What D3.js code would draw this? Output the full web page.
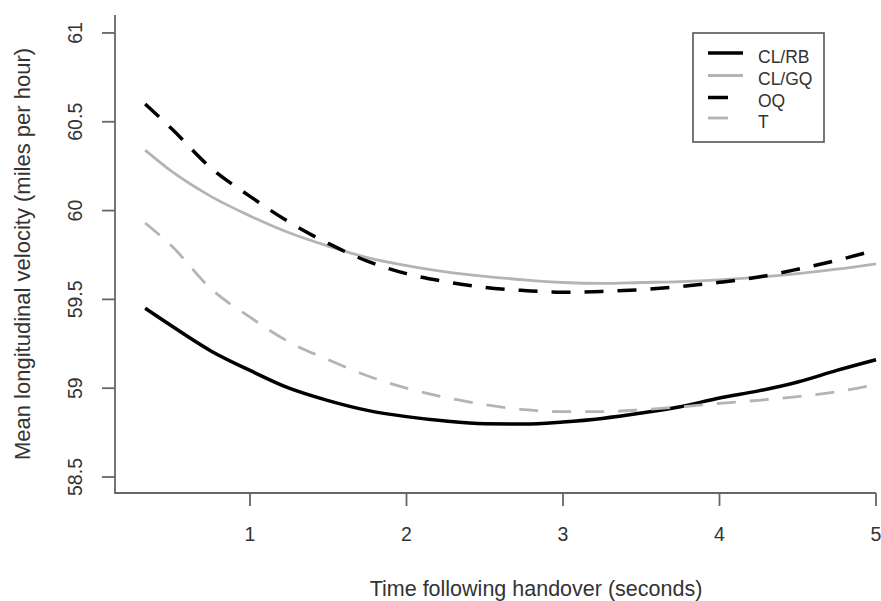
<!DOCTYPE html>
<html>
<head>
<meta charset="utf-8">
<script src="https://cdn.jsdelivr.net/npm/d3@7/dist/d3.min.js"></script>
<style>
  html, body { margin: 0; padding: 0; background: #fff; }
  text { font-family: "Liberation Sans", Arial, sans-serif; fill: #333; }
</style>
</head>
<body>
<svg id="chart" width="881" height="601"></svg>
<script>
// ---- data ----
const times = [0.33, 0.5, 0.75, 1.0, 1.25, 1.5, 1.75, 2.0, 2.25, 2.5, 2.75, 3.0, 3.25, 3.5, 3.75, 4.0, 4.25, 4.5, 4.75, 5.0];
const clrb = [59.45, 59.35, 59.21, 59.10, 59.00, 58.93, 58.875, 58.84, 58.815, 58.80, 58.798, 58.81, 58.83, 58.86, 58.896, 58.945, 58.985, 59.035, 59.10, 59.16];
const clgq = [60.34, 60.22, 60.08, 59.97, 59.875, 59.80, 59.735, 59.69, 59.655, 59.63, 59.61, 59.595, 59.59, 59.595, 59.60, 59.61, 59.625, 59.645, 59.67, 59.70];
const oq   = [60.60, 60.46, 60.24, 60.08, 59.935, 59.815, 59.715, 59.645, 59.60, 59.567, 59.55, 59.54, 59.545, 59.555, 59.572, 59.596, 59.626, 59.67, 59.72, 59.778];
const tq   = [59.93, 59.80, 59.56, 59.40, 59.26, 59.16, 59.07, 59.00, 58.948, 58.908, 58.879, 58.868, 58.868, 58.878, 58.895, 58.915, 58.932, 58.953, 58.98, 59.02];
const seriesNames = ["CL/RB", "CL/GQ", "OQ", "T"];
const xTicks = [1, 2, 3, 4, 5];
const yTicks = [58.5, 59, 59.5, 60, 60.5, 61];
const xTitle = "Time following handover (seconds)";
const yTitle = "Mean longitudinal velocity (miles per hour)";

// ---- styles ----
const styles = {
  "CL/RB": { color: "#000000", width: 3.5, dash: null, legLen: 35 },
  "CL/GQ": { color: "#b4b4b4", width: 2.8, dash: null, legLen: 35 },
  "OQ":    { color: "#000000", width: 3.5, dash: "19,14", legLen: 20 },
  "T":     { color: "#b4b4b4", width: 2.8, dash: "19,14", legLen: 20 }
};
const seriesValues = { "CL/RB": clrb, "CL/GQ": clgq, "OQ": oq, "T": tq };

const svg = d3.select("#chart");
const pLeft = 115, pRight = 876, pTop = 15, pBottom = 493;

const x = d3.scaleLinear().domain([0.1374, 5]).range([pLeft, pRight]);
const y = d3.scaleLinear().domain([58.41, 61.101]).range([pBottom, pTop]);

const axisColor = "#666";

// box (L shape)
svg.append("path")
  .attr("d", `M${pLeft},${pTop}V${pBottom}H${pRight}`)
  .attr("fill", "none").attr("stroke", axisColor).attr("stroke-width", 1.8);

// x ticks
const xa = svg.append("g");
xTicks.forEach(t => {
  xa.append("line").attr("x1", x(t)).attr("x2", x(t)).attr("y1", pBottom).attr("y2", pBottom + 13)
    .attr("stroke", axisColor).attr("stroke-width", 1.8);
  xa.append("text").attr("x", x(t)).attr("y", 541).attr("text-anchor", "middle")
    .style("font-size", "19.5px").text(t);
});
// y ticks
const ya = svg.append("g");
yTicks.forEach(v => {
  ya.append("line").attr("x1", pLeft - 13).attr("x2", pLeft).attr("y1", y(v)).attr("y2", y(v))
    .attr("stroke", axisColor).attr("stroke-width", 1.8);
  ya.append("text").attr("transform", `translate(82,${y(v)}) rotate(-90)`)
    .attr("text-anchor", "middle").style("font-size", "19.5px").text(v);
});

// titles
svg.append("text").attr("x", 536).attr("y", 596).attr("text-anchor", "middle")
  .style("font-size", "21.5px").text(xTitle);
svg.append("text").attr("transform", `translate(30,254) rotate(-90)`)
  .attr("text-anchor", "middle").style("font-size", "22px").text(yTitle);

// lines
const line = d3.line().x(d => x(d[0])).y(d => y(d[1])).curve(d3.curveMonotoneX);
seriesNames.forEach(name => {
  const st = styles[name];
  const data = times.map((t, i) => [t, seriesValues[name][i]]);
  svg.append("path").datum(data).attr("d", line)
    .attr("fill", "none").attr("stroke", st.color).attr("stroke-width", st.width)
    .attr("stroke-dasharray", st.dash).attr("stroke-linejoin", "round");
});

// legend
const lg = svg.append("g");
lg.append("rect").attr("x", 693).attr("y", 33).attr("width", 131).attr("height", 109)
  .attr("fill", "#fff").attr("stroke", "#555").attr("stroke-width", 1.6);
const legY = [53, 75.5, 97.5, 118];
seriesNames.forEach((name, i) => {
  const st = styles[name];
  lg.append("line").attr("x1", 708).attr("x2", 708 + st.legLen).attr("y1", legY[i]).attr("y2", legY[i])
    .attr("stroke", st.color).attr("stroke-width", st.width);
  lg.append("text").attr("x", 758).attr("y", legY[i] + 9.5).style("font-size", "17.5px").text(name);
});
</script>
</body>
</html>
